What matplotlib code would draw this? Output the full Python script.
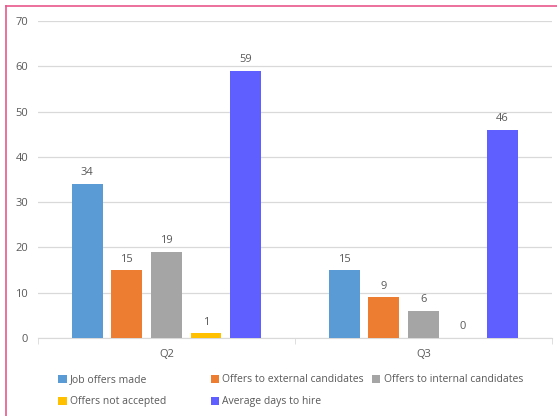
import matplotlib.pyplot as plt
import numpy as np
from matplotlib.patches import Patch
from matplotlib.lines import Line2D

quarters = ["Q2", "Q3"]
series_names = [
    "Job offers made",
    "Offers to external candidates",
    "Offers to internal candidates",
    "Offers not accepted",
    "Average days to hire",
]
job_offers = [34, 15]
external_offers = [15, 9]
internal_offers = [19, 6]
not_accepted = [1, 0]
days_to_hire = [59, 46]

colors = ["#5B9BD5", "#ED7D31", "#A5A5A5", "#FFC000", "#5F5FFF"]
text_color = "#595959"

plt.rcParams["font.family"] = ["Open Sans", "DejaVu Sans"]

fig = plt.figure(figsize=(5.57, 4.16), dpi=100)
ax = fig.add_axes([0.068, 0.1875, 0.923, 0.762])

series = [job_offers, external_offers, internal_offers, not_accepted, days_to_hire]
x = np.arange(len(quarters))
slot = 0.154
width = 0.12
for i, (vals, col) in enumerate(zip(series, colors)):
    pos = x + (i - 2) * slot
    ax.bar(pos, vals, width=width, color=col, zorder=3)
    for p, v in zip(pos, vals):
        ax.annotate(str(v), (p, v), xytext=(0, 4), textcoords="offset points",
                    ha="center", va="bottom", fontsize=8, color=text_color)

ax.set_xlim(-0.5, 1.5)
ax.set_ylim(0, 70)
ax.set_yticks(range(0, 71, 10))
ax.set_xticks(x)
ax.set_xticklabels(quarters)
ax.set_xticks([-0.5, 0.5, 1.5], minor=True)
ax.tick_params(axis="x", which="major", length=0, pad=8, labelsize=8, colors=text_color)
ax.tick_params(axis="x", which="minor", length=4, color="#D9D9D9")
ax.tick_params(axis="y", length=0, pad=7, labelsize=8, colors=text_color)
ax.yaxis.grid(True, color="#D9D9D9", linewidth=0.9, zorder=0)
for side in ["top", "right", "left"]:
    ax.spines[side].set_visible(False)
ax.spines["bottom"].set_color("#D9D9D9")

handles = [Patch(facecolor=c, edgecolor="none") for c in colors]
columns = [(0, 3, 0.105), (1, 4, 0.378), (2, None, 0.668)]
for a, b, xpos in columns:
    idx = [a] if b is None else [a, b]
    fig.legend([handles[k] for k in idx], [series_names[k] for k in idx],
               loc="upper left", bbox_to_anchor=(xpos, 0.1), frameon=False,
               fontsize=7.5, labelcolor=text_color, handlelength=0.8,
               handleheight=0.8, handletextpad=0.3, labelspacing=1.05,
               borderpad=0, borderaxespad=0)

# pink frame along the top and left edges
fig.add_artist(Line2D([0.011, 0.011], [0, 0.986], color="#E8588A", linewidth=1.2))
fig.add_artist(Line2D([0.011, 1.0], [0.986, 0.986], color="#E8588A", linewidth=1.2))

fig.savefig("out.png", dpi=100)
